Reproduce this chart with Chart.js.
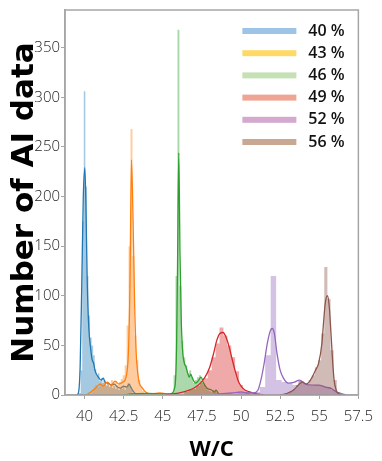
<!DOCTYPE html>
<html>
<head>
<meta charset="utf-8">
<script src="https://cdn.jsdelivr.net/npm/chart.js@4.4.1/dist/chart.umd.min.js"></script>
<style>
  html, body { margin:0; padding:0; background:#fff; }
  #wrap { width:382px; height:461px; }
</style>
</head>
<body>
<div id="wrap"><canvas id="chart" width="382" height="461"></canvas></div>
<script>
// Legend labels and axis ticks
const groupLabels = ['40 %', '43 %', '46 %', '49 %', '52 %', '56 %'];
const xTicks = [40, 42.5, 45, 47.5, 50, 52.5, 55, 57.5];
const yTicks = [0, 50, 100, 150, 200, 250, 300, 350];

// Histogram bin centres (W/C) and counts, one pair per group
const bins40 = [39.7,39.8,39.9,40.0,40.1,40.2,40.3,40.4,40.5,40.6,40.7,40.8,40.9,41.0,41.1,41.2,41.3,41.4,41.5,41.6,41.7,41.8,41.9,42.0,42.1,42.2,42.3,42.4,42.5,42.6,42.7,42.8,42.9,43.0,43.1];
const counts40 = [2,25,175,306,210,120,80,58,50,40,26,20,22,14,17,12,15,9,12,8,11,7,9,6,8,5,7,6,8,5,7,12,9,5,2];
const bins43 = [40.5,40.625,40.75,40.875,41.0,41.125,41.25,41.375,41.5,41.625,41.75,41.875,42.0,42.125,42.25,42.375,42.5,42.625,42.75,42.875,43.0,43.125,43.25,43.375,43.5,43.625,43.75,43.875,44.0];
const counts43 = [3,6,10,8,12,9,14,10,13,9,15,12,14,10,13,16,20,30,70,150,268,140,60,35,15,8,4,2,1];
const bins46 = [45.625,45.75,45.875,46.0,46.125,46.25,46.375,46.5,46.625,46.75,46.875,47.0,47.125,47.25,47.375,47.5,47.625,47.75,47.875,48.0,48.125,48.25,48.375,48.5];
const counts46 = [3,20,120,368,110,55,38,30,22,25,18,12,15,18,20,14,10,7,5,4,3,5,3,1];
const bins49 = [46.5,46.75,47.0,47.25,47.5,47.75,48.0,48.25,48.5,48.75,49.0,49.25,49.5,49.75,50.0,50.25,50.5];
const counts49 = [3,5,6,9,12,17,25,38,52,68,60,50,38,24,10,5,3];
const bins52 = [49.97,50.32,50.67,51.02,51.37,51.72,52.07,52.42,52.77,53.12,53.47,53.82,54.17,54.52,54.87,55.22,55.57,55.92,56.27];
const counts52 = [2,3,1,3,8,40,120,15,13,12,10,14,11,9,10,9,8,5,2];
const bins56 = [53.02,53.22,53.42,53.62,53.82,54.02,54.22,54.42,54.62,54.82,55.02,55.22,55.42,55.62,55.82,56.02,56.22];
const counts56 = [2,4,6,10,14,12,10,15,20,28,35,62,129,97,45,15,3];

// KDE curves
const kdeX40 = [39.5,39.62,39.72,39.82,39.92,40.02,40.1,40.17,40.27,40.38,40.48,40.58,40.68,40.88,41.06,41.2,41.3,41.5,41.7,41.9,42.1,42.3,42.5,42.7,42.85,42.95,43.1,43.3,43.6];
const kdeY40 = [0,3,30,110,200,229,180,115,68,48,36,32,24,18,15,17,13,12,10,11,8,7,9,8,11,8,4,1,0];
const kdeX43 = [40.1,40.4,40.7,41.0,41.2,41.45,41.7,41.95,42.2,42.45,42.65,42.8,42.9,43.0,43.1,43.2,43.3,43.4,43.5,43.7,43.9,44.3,44.8,45.3,45.8];
const kdeY43 = [0,3,7,11,9,13,10,14,11,13,18,42,108,237,176,92,42,22,12,7,3,1,2,1,0];
const kdeX46 = [42.5,43.0,44.0,45.0,45.47,45.77,45.88,45.94,46.02,46.1,46.18,46.28,46.38,46.49,46.59,46.69,46.79,46.89,47.1,47.3,47.44,47.61,47.81,48.11,48.32,48.4,48.58,48.83];
const kdeY46 = [0,1,1.5,1,1,8,48,126,244,142,75,42,32,28,22,18,21,17,12,15,18,12,7,5,3,5,1,0];
const kdeX49 = [45.2,45.6,46.0,46.5,47.0,47.4,47.7,48.0,48.25,48.45,48.65,48.85,49.05,49.25,49.45,49.65,49.85,50.05,50.25,50.6,51.0,51.5];
const kdeY49 = [0,1,2,4,7,12,18,28,42,55,62,63,58,48,35,23,13,8,5,3,1,0];
const kdeX52 = [48.0,48.6,49.4,50.0,50.5,50.8,51.07,51.27,51.48,51.68,51.88,51.99,52.13,52.3,52.5,52.71,53.02,53.42,53.73,54.14,54.55,54.96,55.38,55.78,56.09,56.4,56.8];
const kdeY52 = [0,1,2,3,2,2,4.5,15,32,52,65,67,62,42,25,17,12,13,15,11,10,10,8,6.5,3,1.5,0];
const kdeX56 = [52.5,52.9,53.32,53.73,53.93,54.14,54.35,54.55,54.76,54.96,55.17,55.27,55.38,55.52,55.64,55.75,55.85,55.95,56.09,56.3,56.6];
const kdeY56 = [0,1.5,4.5,11,13,11,13,18,25,32,52,72,92,100,89,62,35,15,4.5,0.5,0];

// Colours
const lineColors = ['#1f77b4', '#ff7f0e', '#2ca02c', '#d62728', '#9467bd', '#8c564b'];
const fillColors = ['rgba(31,119,180,0.4)', 'rgba(255,127,14,0.4)', 'rgba(44,160,44,0.4)',
                    'rgba(214,39,40,0.4)', 'rgba(148,103,189,0.4)', 'rgba(140,86,75,0.4)'];
const legendColors = ['#9dc3e6', '#ffd966', '#c5e0b4', '#eea594', '#d4a9cf', '#c9a893'];

const histBins = [bins40, bins43, bins46, bins49, bins52, bins56];
const histCounts = [counts40, counts43, counts46, counts49, counts52, counts56];
const kdeXs = [kdeX40, kdeX43, kdeX46, kdeX49, kdeX52, kdeX56];
const kdeYs = [kdeY40, kdeY43, kdeY46, kdeY49, kdeY52, kdeY56];

// Stepped outline of a histogram: closes at zero one bin beyond each end
function histPoints(bins, counts) {
  const w = bins[1] - bins[0];
  const pts = [{ x: bins[0] - w, y: 0 }];
  bins.forEach((b, i) => pts.push({ x: b, y: counts[i] }));
  pts.push({ x: bins[bins.length - 1] + w, y: 0 });
  return pts;
}

const datasets = [];
groupLabels.forEach((label, g) => {
  datasets.push({
    label: label + ' hist',
    data: histPoints(histBins[g], histCounts[g]),
    stepped: 'middle',
    borderColor: 'rgba(0,0,0,0)',
    borderWidth: 0,
    backgroundColor: fillColors[g],
    fill: 'origin',
    pointRadius: 0
  });
  datasets.push({
    label: label,
    data: kdeXs[g].map((x, i) => ({ x: x, y: kdeYs[g][i] })),
    borderColor: lineColors[g],
    borderWidth: 1.3,
    fill: false,
    pointRadius: 0,
    cubicInterpolationMode: 'monotone'
  });
});
// later groups on top, like the original plotting order
datasets.forEach((d, i) => { d.order = datasets.length - i; });

// Legend drawn inside the plot, top right
const legendBox = {
  id: 'legendBox',
  afterDatasetsDraw(chart) {
    const { ctx, chartArea } = chart;
    ctx.save();
    ctx.font = '600 16px "Open Sans"';
    ctx.textBaseline = 'middle';
    ctx.textAlign = 'left';
    groupLabels.forEach((label, i) => {
      const y = chartArea.top + 21 + i * 22.2;
      ctx.fillStyle = legendColors[i];
      ctx.fillRect(chartArea.right - 116, y - 3, 54, 6);
      ctx.fillStyle = '#111';
      ctx.fillText(label, chartArea.right - 50, y);
    });
    ctx.restore();
  }
};

// Box around the plot
const frame = {
  id: 'frame',
  afterDraw(chart) {
    const { ctx, chartArea } = chart;
    ctx.save();
    ctx.strokeStyle = '#a6a6a6';
    ctx.lineWidth = 1.5;
    ctx.strokeRect(chartArea.left, chartArea.top, chartArea.right - chartArea.left, chartArea.bottom - chartArea.top);
    ctx.restore();
  }
};

const tickFont = { family: 'Open Sans', size: 15, weight: '300' };

new Chart(document.getElementById('chart'), {
  type: 'line',
  data: { datasets: datasets },
  plugins: [legendBox, frame],
  options: {
    responsive: false,
    animation: false,
    devicePixelRatio: 1,
    layout: { padding: { top: 9, right: 10, left: 0, bottom: 0 } },
    plugins: { legend: { display: false }, tooltip: { enabled: false } },
    scales: {
      x: {
        type: 'linear', min: 38.75, max: 57.5,
        afterBuildTicks: a => { a.ticks = xTicks.map(v => ({ value: v })); },
        afterFit: a => { a.height = 66; },
        grid: { display: true, drawOnChartArea: false, drawTicks: true, tickLength: 4, color: '#a6a6a6' },
        border: { color: '#a6a6a6', width: 1.5 },
        ticks: { font: tickFont, color: '#222', padding: 9, maxRotation: 0, autoSkip: false, callback: v => String(v) },
        title: { display: true, text: 'W/C', color: '#000', padding: { top: 0, bottom: 0 },
                 font: { family: 'Open Sans', size: 22, weight: 'bold', lineHeight: 1 } }
      },
      y: {
        type: 'linear', min: 0, max: 388,
        afterBuildTicks: a => { a.ticks = yTicks.map(v => ({ value: v })); },
        afterFit: a => { a.width = 65; },
        grid: { display: true, drawOnChartArea: false, drawTicks: true, tickLength: 4, color: '#a6a6a6' },
        border: { color: '#a6a6a6', width: 1.5 },
        ticks: { font: tickFont, color: '#222', padding: 1, callback: v => String(v) },
        title: { display: true, text: 'Number of AI data', color: '#000', padding: { top: 6, bottom: 0 },
                 font: { family: 'DejaVu Sans', size: 31, weight: 'bold' } }
      }
    }
  }
});
</script>
</body>
</html>
